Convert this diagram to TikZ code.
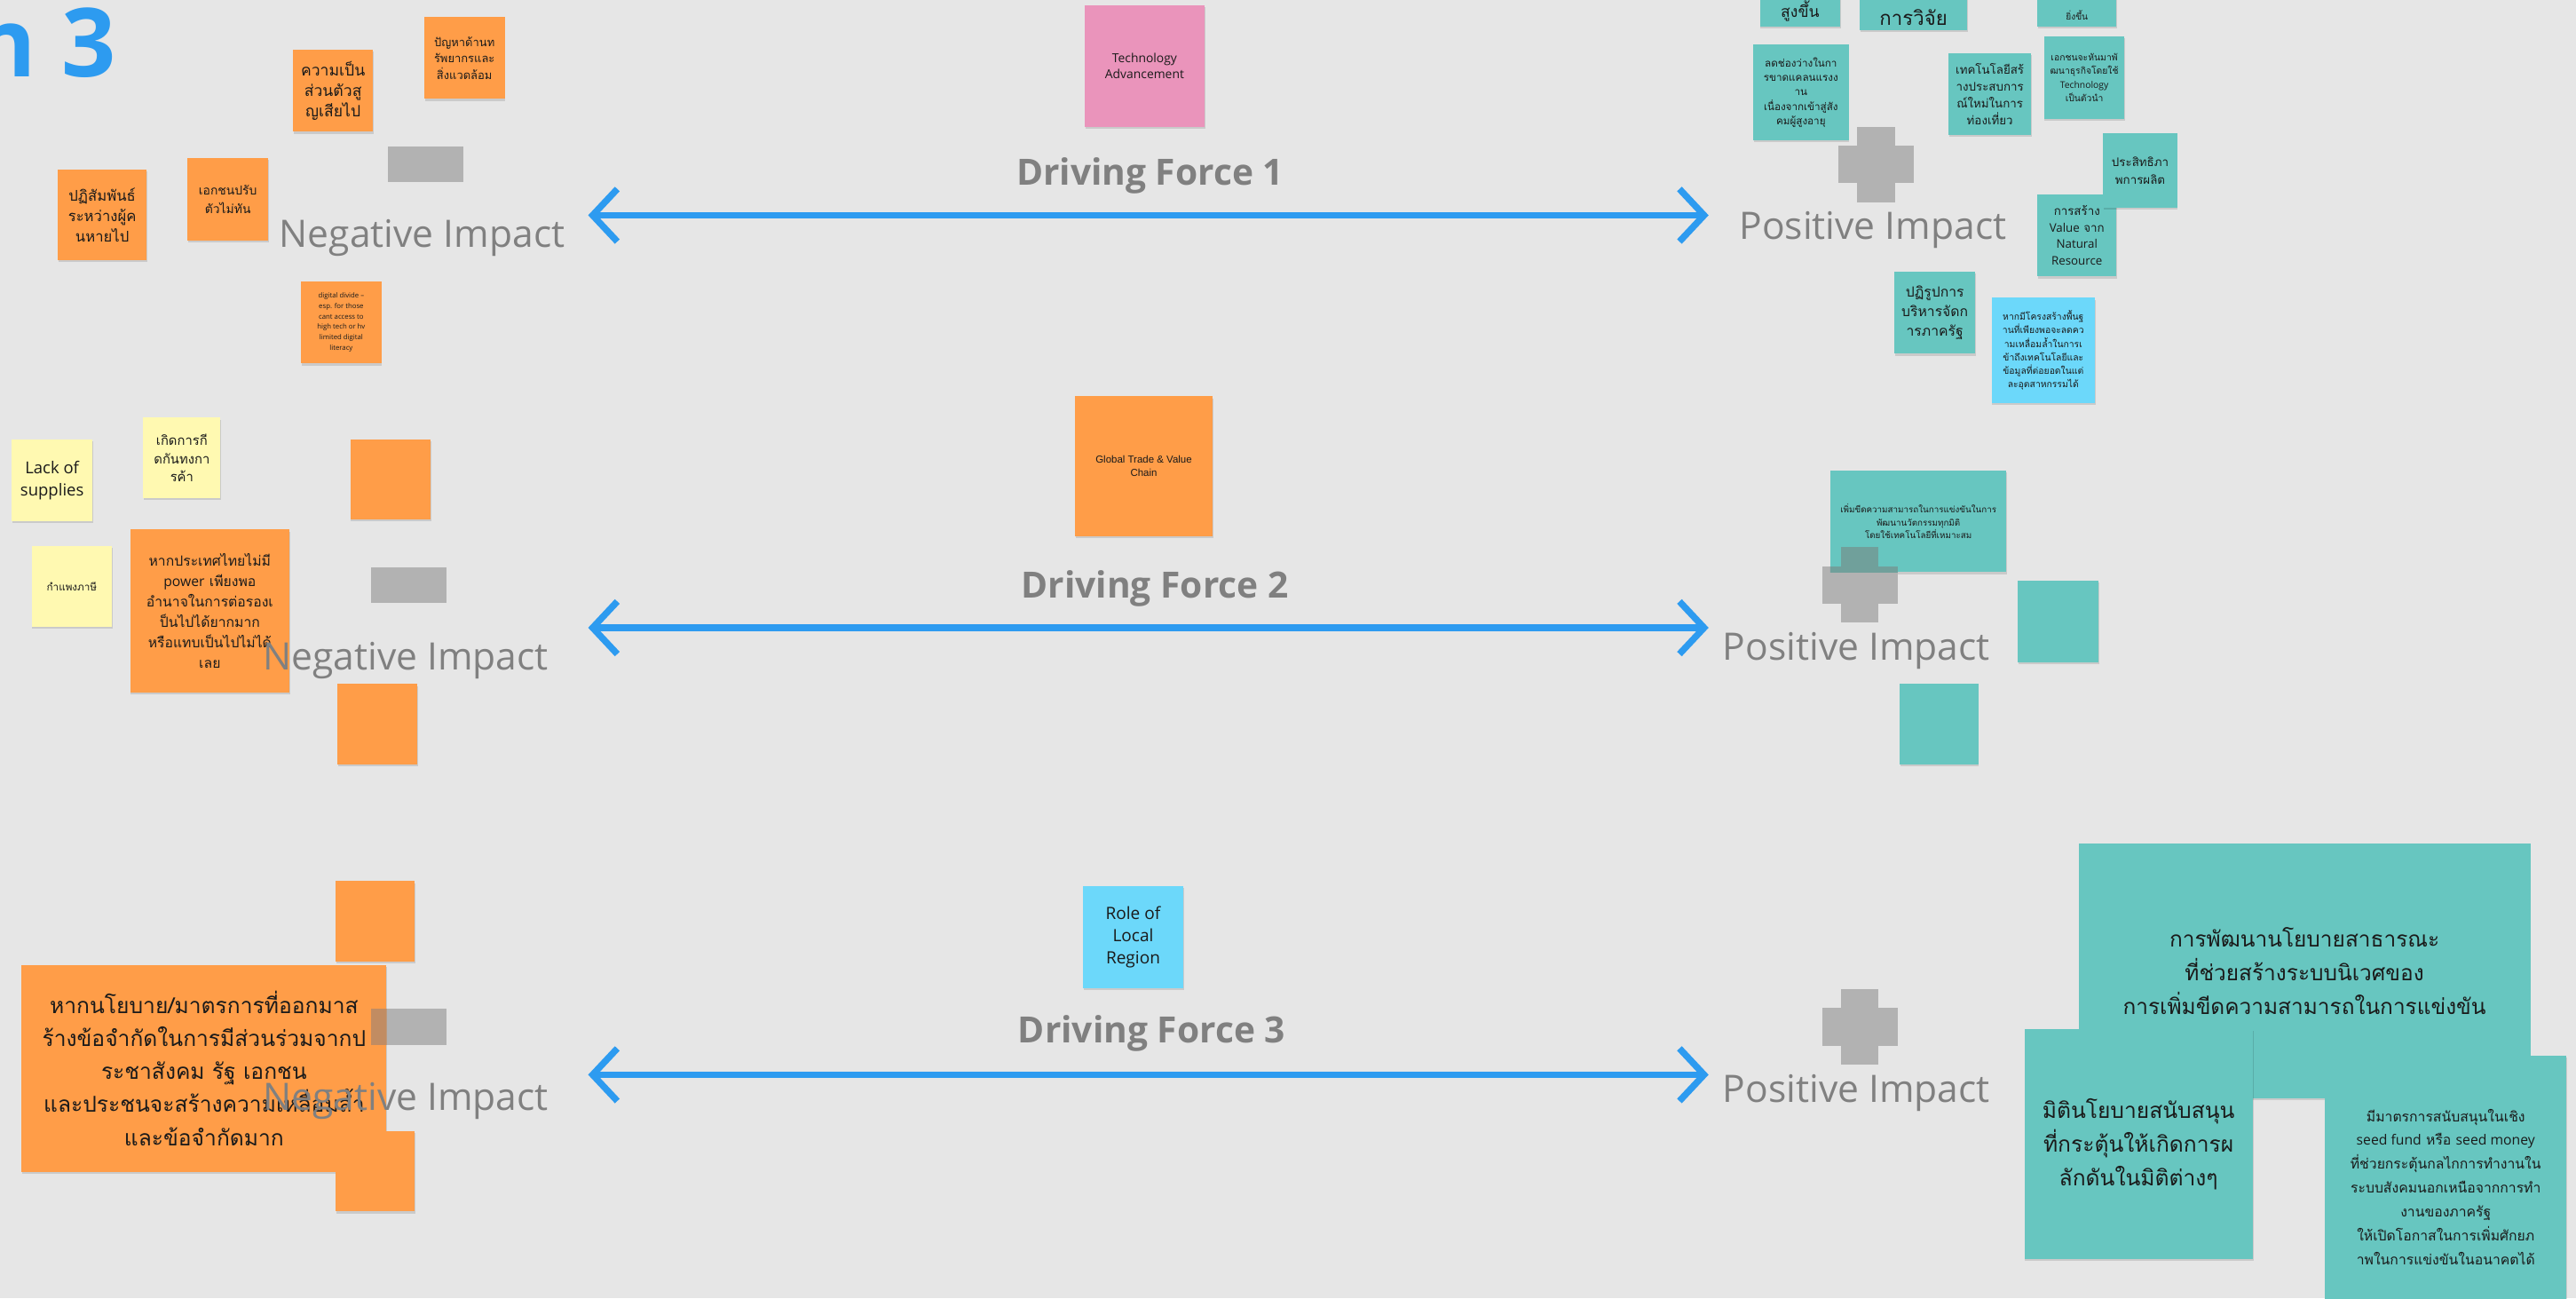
\documentclass[tikz,border=0pt]{standalone}
\usepackage{fontspec}
\setmainfont{Open Sans}
\newfontfamily\thaiFont[Script=Thai]{Loma}
\newfontfamily\arialFont{Liberation Sans}
\usetikzlibrary{positioning,arrows.meta,shadows}
\definecolor{boardbg}{HTML}{E6E6E6}
\definecolor{noteorange}{HTML}{FF9D48}
\definecolor{noteteal}{HTML}{67C6C0}
\definecolor{noteyellow}{HTML}{FFF9B1}
\definecolor{noteblue}{HTML}{6CD8FA}
\definecolor{notepink}{HTML}{EA94BB}
\definecolor{notetext}{HTML}{1A1A1A}
\definecolor{impactgray}{HTML}{808080}
\definecolor{signgray}{HTML}{B2B2B2}
\definecolor{signonteal}{HTML}{70A09B}
\definecolor{signonorange}{HTML}{C18C62}
\definecolor{arrowblue}{HTML}{2D9BF0}
\newcommand{\thSize}[2]{\thaiFont\fontsize{#1}{#2}\selectfont}
\newcommand{\enSize}[2]{\fontsize{#1}{#2}\selectfont}
\newcommand{\latWord}[1]{{\normalfont #1}}
\newcommand{\dfPlus}[3]{\fill[#3] (#1-23,#2-11.5) rectangle (#1+23,#2+11.5);
  \fill[#3] (#1-11.5,#2-23) rectangle (#1+11.5,#2+23);}
\tikzset{
  sticky/.style={rectangle, anchor=north west, align=center, inner sep=1pt, text=notetext,
    minimum width=49pt, minimum height=50pt,
    drop shadow={shadow xshift=0.4pt, shadow yshift=-1.2pt, opacity=0.12, fill=black}},
  orangenote/.style={sticky, fill=noteorange},
  tealnote/.style={sticky, fill=noteteal},
  yellownote/.style={sticky, fill=noteyellow},
  bluenote/.style={sticky, fill=noteblue},
  pinknote/.style={sticky, fill=notepink},
  notetxt/.style={inner sep=0pt, text=notetext, align=center},
  impact/.style={text=impactgray, inner sep=0pt, font=\enSize{23}{28}},
  dforce/.style={text=impactgray, inner sep=0pt, font=\bfseries\enSize{22}{26}},
  dfarrow/.style={draw=arrowblue, line width=4pt,
    {Straight Barb[length=15pt,width=32pt]}-{Straight Barb[length=15pt,width=32pt]}},
  minusbar/.style={fill=signgray, minimum width=46pt, minimum height=22pt, inner sep=0pt},
}

\begin{document}
\begin{tikzpicture}[x=1pt,y=-1pt]
\fill[boardbg] (0,0) rectangle (1568,790);
\useasboundingbox (0,0) rectangle (1568,790);
\node[anchor=base west, inner sep=0pt, text=arrowblue, font=\bfseries\enSize{58}{66}] (title) at (-16,47) {n 3};
% driving force 1
\node[pinknote, minimum width=73pt, minimum height=74pt, font=\enSize{7.5}{10}] (tech) at (660,3) {Technology\\Advancement};
\node[orangenote, font=\thSize{9.5}{12.5}] (n1a) at (178,30) {ความเป็น\\ส่วนตัวสู\\ญเสียไป};
\node[orangenote, font=\thSize{7}{10}] (n1b) at (258,10) {ปัญหาด้านท\\รัพยากรและ\\สิ่งแวดล้อม};
\node[orangenote, minimum width=54pt, minimum height=55pt, font=\thSize{9}{12.5}] (n1c) at (35,103) {ปฏิสัมพันธ์\\ระหว่างผู้ค\\นหายไป};
\node[orangenote, font=\thSize{7.5}{11}] (n1d) at (114,96) {เอกชนปรับ\\ตัวไม่ทัน};
\node[orangenote, font=\enSize{4.2}{6.3}] (n1e) at (183,171) {digital divide --\\esp. for those\\cant access to\\high tech or hv\\limited digital\\literacy};
\node[tealnote, minimum height=50pt] (t1a) at (1071,-34) {};
\node[notetxt, font=\thSize{9.5}{12}, above=3pt of t1a.south] (t1atxt) {สูงขึ้น};
\node[tealnote, minimum width=65pt, minimum height=48pt] (t1b) at (1132,-30) {};
\node[notetxt, font=\thSize{12}{15}, above=3pt of t1b.south] (t1btxt) {การวิจัย};
\node[tealnote, minimum width=48pt] (t1c) at (1240,-34) {};
\node[notetxt, font=\thSize{5.5}{7}, above=4pt of t1c.south] (t1ctxt) {ยิ่งขึ้น};
\node[tealnote, minimum width=58pt, minimum height=58pt, font=\thSize{6.3}{8.8}] (t1d) at (1067,27) {ลดช่องว่างในกา\\รขาดแคลนแรงง\\าน\\เนื่องจากเข้าสู่สัง\\คมผู้สูงอายุ};
\node[tealnote, minimum width=50pt, font=\thSize{7.2}{10.3}] (t1e) at (1186,32) {เทคโนโลยีสร้\\างประสบการ\\ณ์ใหม่ในการ\\ท่องเที่ยว};
\node[tealnote, font=\thSize{5.6}{8.2}] (t1f) at (1244,22) {เอกชนจะหันมาพั\\ฒนาธุรกิจโดยใช้\\\latWord{Technology}\\เป็นตัวนำ};
\node[tealnote, minimum width=48pt, font=\thSize{7.2}{10}] (t1h) at (1240,118) {การสร้าง\\\latWord{Value} จาก\\\latWord{Natural}\\\latWord{Resource}};
\node[tealnote, minimum width=45pt, minimum height=45pt, font=\thSize{7.2}{11}] (t1g) at (1280,81) {ประสิทธิภา\\พการผลิต};
\node[tealnote, font=\thSize{8.5}{12}] (t1i) at (1153,165) {ปฏิรูปการ\\บริหารจัดก\\ารภาครัฐ};
\node[bluenote, minimum width=63pt, minimum height=64pt, font=\thSize{5.6}{8.2}] (b1a) at (1212,181) {หากมีโครงสร้างพื้นฐ\\านที่เพียงพอจะลดคว\\ามเหลื่อมล้ำในการเ\\ข้าถึงเทคโนโลยีและ\\ข้อมูลที่ต่อยอดในแต่\\ละอุตสาหกรรมได้};
\node[minusbar] (minus1) at (259,100) {};
\dfPlus{1142}{100}{signgray}
\node[impact] (neg1) at (257,145) {Negative Impact};
\node[impact] (pos1) at (1140,140) {Positive Impact};
\node[dforce] (df1) at (700,107) {Driving Force 1};
\coordinate (a1l) at (358,131);
\coordinate (a1r) at (1040,131);
\draw[dfarrow] (a1l) -- (a1r);
% driving force 2
\node[orangenote, minimum width=84pt, minimum height=85pt, font=\arialFont\enSize{6.2}{8.2}] (trade) at (654,241) {Global Trade \& Value\\Chain};
\node[yellownote, font=\enSize{10}{13.5}] (y2a) at (7,267) {Lack of\\supplies};
\node[yellownote, minimum width=47pt, minimum height=49pt, font=\thSize{8}{11}] (y2b) at (87,254) {เกิดการกี\\ดกันทงกา\\รค้า};
\node[yellownote, minimum height=49pt, font=\thSize{6.3}{8}] (y2c) at (19,332) {กำแพงภาษี};
\node[orangenote, minimum width=97pt, minimum height=99pt, font=\thSize{8.5}{12.5}] (n2a) at (79,322) {หากประเทศไทยไม่มี\\\latWord{power} เพียงพอ\\อำนาจในการต่อรองเ\\ป็นไปได้ยากมาก\\หรือแทบเป็นไปไม่ได้\\เลย};
\node[orangenote, minimum height=49pt] (n2b) at (213,267) {};
\node[orangenote, minimum height=49pt] (n2c) at (205,416) {};
\node[tealnote, minimum width=107pt, minimum height=62pt, font=\thSize{5.3}{8}] (t2a) at (1114,286) {เพิ่มขีดความสามารถในการแข่งขันในการ\\พัฒนานวัตกรรมทุกมิติ\\โดยใช้เทคโนโลยีที่เหมาะสม};
\node[tealnote] (t2b) at (1228,353) {};
\node[tealnote, minimum width=48pt, minimum height=49pt] (t2c) at (1156,416) {};
\node[minusbar] (minus2) at (249,356) {};
\dfPlus{1132}{356}{signgray}
\begin{scope}
\clip (t2a.south west) rectangle (t2a.north east);
\dfPlus{1132}{356}{signonteal}
\end{scope}
\node[impact] (neg2) at (247,402) {Negative Impact};
\node[impact] (pos2) at (1130,396) {Positive Impact};
\node[dforce] (df2) at (703,358) {Driving Force 2};
\coordinate (a2l) at (358,382);
\coordinate (a2r) at (1040,382);
\draw[dfarrow] (a2l) -- (a2r);
% driving force 3
\node[bluenote, minimum width=61pt, minimum height=62pt, font=\enSize{10.3}{13.5}] (local) at (659,539) {Role of\\Local\\Region};
\node[orangenote, minimum width=48pt, minimum height=49pt] (n3a) at (204,536) {};
\node[orangenote, minimum width=222pt, minimum height=126pt, font=\thSize{13.3}{20}] (n3b) at (13,587) {หากนโยบาย/มาตรการที่ออกมาส\\ร้างข้อจำกัดในการมีส่วนร่วมจากป\\ระชาสังคม รัฐ เอกชน\\และประชนจะสร้างความเหลื่อมล้ำ\\และข้อจำกัดมาก};
\node[orangenote, minimum width=48pt, minimum height=49pt] (n3c) at (204,688) {};
\node[tealnote, minimum width=275pt, minimum height=155pt, font=\thSize{13.2}{20.5}] (t3a) at (1265,513) {การพัฒนานโยบายสาธารณะ\\ที่ช่วยสร้างระบบนิเวศของ\\การเพิ่มขีดความสามารถในการแข่งขัน};
\node[tealnote, minimum width=139pt, minimum height=140pt, font=\thSize{13.3}{20.5}] (t3b) at (1232,626) {มิตินโยบายสนับสนุน\\ที่กระตุ้นให้เกิดการผ\\ลักดันในมิติต่างๆ};
\node[tealnote, minimum width=147pt, minimum height=160pt, font=\thSize{8.5}{14.5}] (t3c) at (1415,642) {มีมาตรการสนับสนุนในเชิง\\\latWord{seed fund} หรือ \latWord{seed money}\\ที่ช่วยกระตุ้นกลไกการทำงานใน\\ระบบสังคมนอกเหนือจากการทำ\\งานของภาครัฐ\\ให้เปิดโอกาสในการเพิ่มศักยภ\\าพในการแข่งขันในอนาคตได้};
\node[minusbar] (minus3) at (249,625) {};
\begin{scope}
\clip (n3b.south west) rectangle (n3b.north east);
\node[minusbar, fill=signonorange] at (249,625) {};
\end{scope}
\dfPlus{1132}{625}{signgray}
\node[impact] (neg3) at (247,670) {Negative Impact};
\node[impact] (pos3) at (1130,665) {Positive Impact};
\node[dforce] (df3) at (701,629) {Driving Force 3};
\coordinate (a3l) at (358,654);
\coordinate (a3r) at (1040,654);
\draw[dfarrow] (a3l) -- (a3r);
\end{tikzpicture}
\end{document}
